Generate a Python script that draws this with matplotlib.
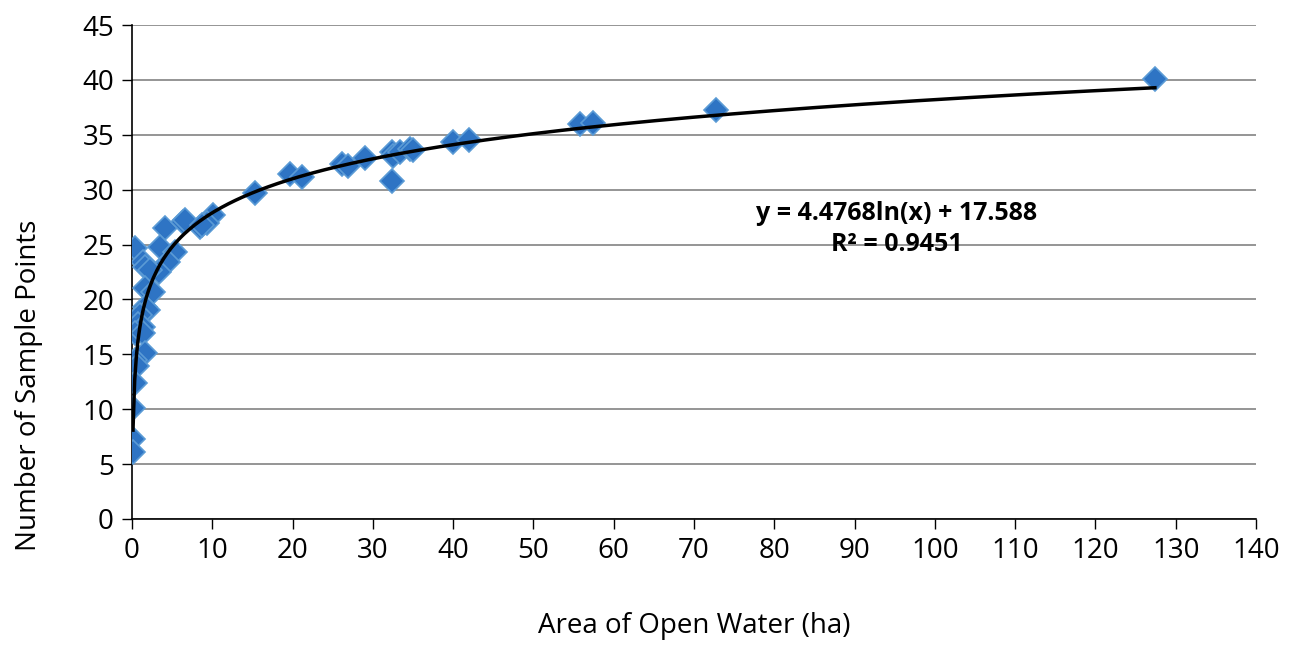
import numpy as np
import matplotlib.pyplot as plt

plt.rcParams['font.family'] = ['Open Sans', 'DejaVu Sans']

# area of open water (ha) and number of sample points
area = [0.4, 1.4, 1.6, 4.1, 6.4, 3.5, 5.4, 4.5, 3.3, 2.2, 8.5, 10.1, 9.3,
        1.6, 2.6, 1.6, 2.0, 1.0, 0.8, 1.4, 0.4, 1.4, 1.6, 0.4, 0.6, 0.4,
        0.15, 0.15, 0.15, 15.3, 19.7, 21.2, 26.2, 26.9, 29.0, 32.4, 32.4,
        32.5, 33.4, 34.6, 35.0, 40.0, 42.0, 6.6, 8.7, 55.8, 57.4, 72.7, 127.4]
points = [24.7, 23.4, 23.0, 26.5, 27.1, 24.8, 24.3, 23.4, 22.5, 22.7, 26.6, 27.7, 27.0,
          21.0, 20.7, 19.3, 19.0, 18.6, 17.8, 17.5, 16.9, 16.9, 15.1, 14.5, 13.9, 12.4,
          10.1, 7.3, 6.1, 29.7, 31.4, 31.2, 32.3, 32.2, 32.9, 30.8, 33.4,
          33.1, 33.4, 33.7, 33.6, 34.3, 34.5, 27.2, 26.8, 36.0, 36.1, 37.3, 40.1]

# logarithmic trendline
a_coef = 4.4768
b_coef = 17.588

fig = plt.figure(figsize=(13.02, 6.52), dpi=100)
ax = fig.add_axes([0.1014, 0.204, 0.8633, 0.7576])

ax.yaxis.grid(True, color='#8c8c8c', linewidth=1.3)
ax.set_axisbelow(True)

ax.plot(area, points, linestyle='none', marker='D', markersize=12,
        markerfacecolor='#2e74c4', markeredgecolor='#5b9bd5', markeredgewidth=1.2,
        zorder=3)

xs = np.linspace(min(area) * 0.8, max(area), 600)
ax.plot(xs, a_coef * np.log(xs) + b_coef, color='black', linewidth=2.5, zorder=4)

ax.set_xlim(0, 140)
ax.set_ylim(0, 45)
ax.set_xticks(np.arange(0, 141, 10))
ax.set_yticks(np.arange(0, 46, 5))
ax.tick_params(labelsize=20, length=7, width=1, direction='out', pad=6)

for s in ['top', 'right']:
    ax.spines[s].set_visible(False)
for s in ['left', 'bottom']:
    ax.spines[s].set_color('black')
    ax.spines[s].set_linewidth(1.2)

ax.set_xlabel('Area of Open Water (ha)', fontsize=20, labelpad=34)
ax.set_ylabel('Number of Sample Points', fontsize=20)
ax.yaxis.set_label_coords(-0.079, 0.271)

fig.text(897 / 1302, 1 - 213 / 652, 'y = 4.4768ln(x) + 17.588', ha='center', va='center',
         fontsize=18, fontweight='bold')
fig.text(897 / 1302, 1 - 245 / 652, 'R² = 0.9451', ha='center', va='center',
         fontsize=18, fontweight='bold')

fig.savefig('out.png', dpi=100)
